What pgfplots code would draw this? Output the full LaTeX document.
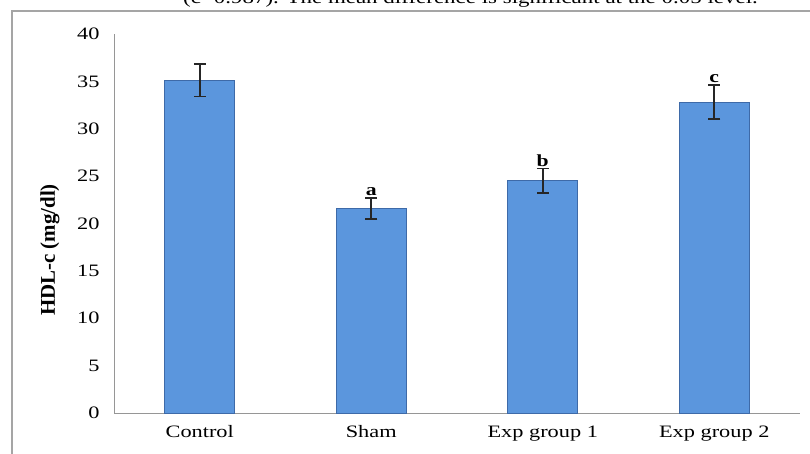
\documentclass[border=0pt]{standalone}
\usepackage{fontspec}
\setmainfont{Liberation Serif}[FakeStretch=1.28]
\newfontfamily\plainserif{Liberation Serif}
\usepackage{pgfplots}
\pgfplotsset{compat=1.18}
\definecolor{barblue}{RGB}{91,150,221}
\definecolor{baredge}{RGB}{62,106,168}
\definecolor{axisgray}{RGB}{150,150,150}
\definecolor{framegray}{RGB}{165,165,165}

\pgfplotstableread{
x y e
0 35.1 1.7
1 21.6 1.1
2 24.5 1.3
3 32.8 1.8
}\hdl

\begin{document}
\begin{tikzpicture}
% outer frame of the figure
\draw[framegray, line width=1.6bp] (12bp,-11bp) rectangle (830bp,-470bp);
% caption line above, cut by the page edge
\node[anchor=base east, inner sep=0pt, font=\fontsize{18}{20}\selectfont] at (758bp,-3bp)
  {(c=0.987). The mean difference is significant at the 0.05 level.};

\begin{axis}[
  scale only axis, width=686bp, height=379bp,
  anchor=south west, at={(114bp,-413bp)},
  xmin=-0.5, xmax=3.5, ymin=0, ymax=40,
  ytick={0,5,...,40},
  xtick=data, xticklabels={Control, Sham, Exp group 1, Exp group 2},
  axis x line*=bottom, axis y line*=left,
  axis line style={axisgray, line width=1bp},
  major tick length=0pt,
  tick label style={font=\fontsize{17.5}{19}\selectfont},
  /pgf/number format/assume math mode=true,
  yticklabel style={xshift=-11bp},
  xticklabel style={yshift=-9bp},
  clip=false,
]
\addplot[ybar, bar width=70bp, fill=barblue, draw=baredge, line width=1bp,
  error bars/.cd, y dir=both, y explicit,
  error bar style={line width=1.8bp, black!85},
  error mark options={rotate=90, mark size=6bp, line width=1.8bp, black!85}]
  table[x=x, y=y, y error=e] {\hdl};

\node[anchor=south, inner sep=2bp, font=\bfseries\fontsize{17}{19}\selectfont] at (axis cs:1,22.7) {a};
\node[anchor=south, inner sep=2bp, font=\bfseries\fontsize{17}{19}\selectfont] at (axis cs:2,25.8) {b};
\node[anchor=south, inner sep=2bp, font=\bfseries\fontsize{17}{19}\selectfont] at (axis cs:3,34.6) {c};
\end{axis}

% y axis title
\node[rotate=90, font=\plainserif\bfseries\fontsize{21}{23}\selectfont] at (50bp,-250bp) {HDL-c (mg/dl)};

\pgfresetboundingbox
\useasboundingbox (0,0) rectangle (810bp,-454bp);
\end{tikzpicture}
\end{document}
